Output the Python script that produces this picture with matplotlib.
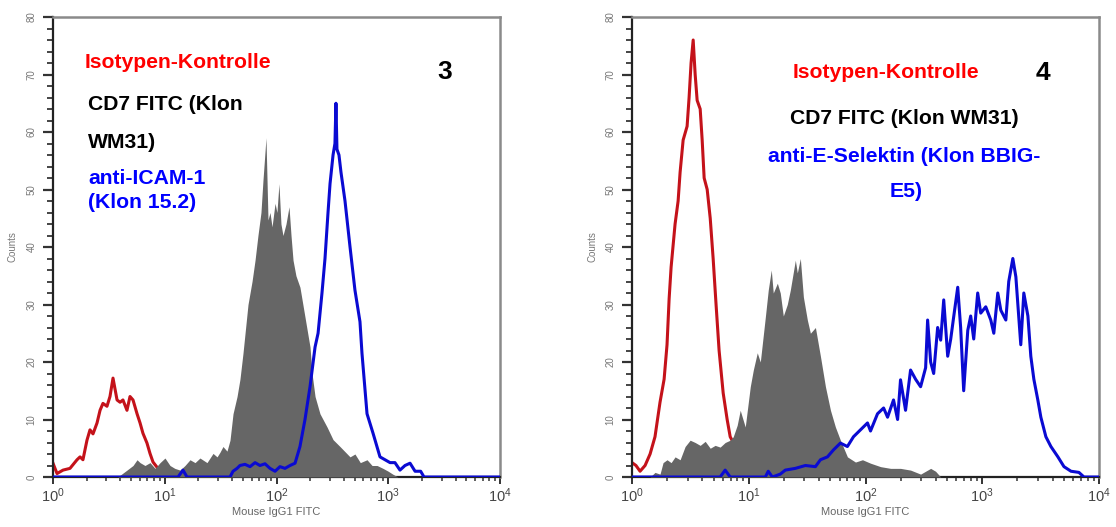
import numpy as np
import matplotlib
matplotlib.use("Agg")
import matplotlib.pyplot as plt
from matplotlib.ticker import FixedLocator, NullFormatter

plt.rcParams['font.family'] = ['Liberation Sans', 'DejaVu Sans']
plt.rcParams['mathtext.fontset'] = 'custom'
plt.rcParams['mathtext.rm'] = 'Liberation Sans'
plt.rcParams['mathtext.it'] = 'Liberation Sans'

# ---------------- Panel 3 data (log10 fluorescence, counts) ----------------
p3_red_logx = [0.00, 0.036, 0.09, 0.152, 0.215, 0.242, 0.268, 0.304, 0.331, 0.358,
               0.394, 0.421, 0.447, 0.483, 0.51, 0.537, 0.573, 0.60, 0.626, 0.662,
               0.689, 0.716, 0.752, 0.779, 0.805, 0.841, 0.868, 0.895, 0.931, 0.958,
               1.0, 1.05]
p3_red_counts = [2.4, 0.6, 1.2, 1.5, 3.0, 3.5, 3.0, 6.4, 8.2, 7.5,
                 9.4, 11.6, 12.8, 12.3, 14.0, 17.2, 13.4, 13.0, 13.4, 11.6,
                 14.0, 13.4, 11.0, 9.4, 7.6, 5.9, 4.1, 2.6, 1.7, 0.5,
                 0.2, 0.0]

p3_gray_logx = [0.0, 0.58, 0.60, 0.662, 0.716, 0.752, 0.779, 0.823, 0.868, 0.913,
                0.958, 1.002, 1.047, 1.09, 1.137, 1.181, 1.226, 1.271, 1.315, 1.378,
                1.432, 1.468, 1.494, 1.521, 1.557, 1.584, 1.611, 1.647, 1.673, 1.70,
                1.745, 1.781, 1.808, 1.834, 1.861, 1.879, 1.906, 1.924, 1.942, 1.96,
                1.987, 2.004, 2.022, 2.04, 2.058, 2.085, 2.112, 2.13, 2.148, 2.174,
                2.21, 2.255, 2.30, 2.318, 2.345, 2.389, 2.452, 2.506, 2.568, 2.658,
                2.702, 2.75, 2.81, 2.855, 2.90, 2.953, 3.0, 3.04, 3.087, 4.0]
p3_gray_counts = [0.0, 0.0, 0.3, 1.2, 2.0, 3.0, 2.5, 2.0, 2.5, 1.5,
                  2.5, 3.3, 2.0, 1.5, 1.2, 2.0, 3.0, 2.5, 3.3, 2.5,
                  4.1, 3.5, 4.3, 5.3, 4.5, 6.4, 11.0, 14.0, 17.0, 21.5,
                  30.0, 34.0, 37.7, 42.0, 46.0, 51.6, 59.0, 44.7, 46.0, 43.5,
                  47.6, 46.0, 51.0, 44.0, 42.0, 44.0, 47.0, 42.0, 37.7, 35.0,
                  33.0, 27.8, 22.6, 18.0, 14.0, 11.0, 8.7, 6.5, 5.3, 3.5,
                  4.0, 2.5, 3.0, 2.0, 2.0, 1.5, 1.0, 0.5, 0.0, 0.0]

p3_blue_logx = [0.0, 1.119, 1.163, 1.199, 1.584, 1.611, 1.647, 1.673, 1.718, 1.763,
                1.808, 1.852, 1.897, 1.942, 1.987, 2.031, 2.076, 2.121, 2.166, 2.21,
                2.255, 2.30, 2.345, 2.372, 2.407, 2.434, 2.461, 2.479, 2.506, 2.523,
                2.532, 2.541, 2.559, 2.577, 2.613, 2.658, 2.702, 2.747, 2.765, 2.81,
                2.864, 2.926, 2.971, 3.016, 3.06, 3.105, 3.15, 3.195, 3.24, 3.29,
                3.32, 4.0]
p3_blue_counts = [0.0, 0.0, 1.2, 0.0, 0.0, 1.0, 1.5, 2.0, 2.2, 1.8,
                  2.5, 2.0, 2.3, 1.5, 1.0, 1.8, 1.5, 2.0, 2.4, 5.3,
                  10.0, 15.7, 22.6, 25.0, 32.0, 38.0, 46.0, 51.0, 56.0, 58.0,
                  65.0, 57.0, 56.0, 53.0, 48.0, 40.0, 32.5, 27.0, 21.5, 11.0,
                  7.6, 3.5, 3.0, 2.5, 2.5, 1.2, 2.0, 2.4, 1.0, 1.0,
                  0.0, 0.0]

# ---------------- Panel 4 data ----------------
p4_red_logx = [0.0, 0.034, 0.069, 0.112, 0.155, 0.197, 0.24, 0.275, 0.30, 0.318,
               0.335, 0.369, 0.395, 0.412, 0.438, 0.472, 0.489, 0.506, 0.524, 0.541,
               0.558, 0.584, 0.601, 0.618, 0.644, 0.67, 0.695, 0.72, 0.746, 0.781,
               0.815, 0.841, 0.867, 0.893, 0.927, 0.97]
p4_red_counts = [2.5, 2.0, 1.0, 2.0, 4.0, 7.0, 13.0, 17.0, 23.0, 31.0,
                 36.5, 44.0, 48.0, 53.0, 58.6, 61.0, 66.0, 72.0, 76.0, 70.0,
                 65.5, 64.0, 58.6, 52.0, 50.0, 45.0, 38.0, 30.0, 22.0, 14.6,
                 10.0, 7.0, 6.0, 3.0, 1.0, 0.0]

p4_gray_logx = [0.0, 0.155, 0.197, 0.24, 0.266, 0.30, 0.335, 0.369, 0.412, 0.455,
                0.498, 0.541, 0.584, 0.627, 0.67, 0.712, 0.755, 0.798, 0.841, 0.867,
                0.901, 0.927, 0.97, 1.013, 1.039, 1.073, 1.099, 1.142, 1.167, 1.193,
                1.21, 1.245, 1.27, 1.296, 1.33, 1.356, 1.399, 1.416, 1.442, 1.468,
                1.502, 1.528, 1.571, 1.614, 1.657, 1.70, 1.742, 1.785, 1.845, 1.914,
                1.974, 2.043, 2.129, 2.215, 2.30, 2.386, 2.472, 2.558, 2.60, 2.644,
                4.0]
p4_gray_counts = [0.0, 0.0, 0.8, 0.5, 2.5, 3.0, 2.5, 3.5, 3.0, 5.3,
                  6.4, 6.0, 5.5, 6.2, 5.0, 5.5, 5.2, 6.0, 6.4, 7.0,
                  9.0, 11.6, 8.7, 15.7, 18.6, 21.6, 20.0, 27.8, 32.5, 36.0,
                  32.0, 33.7, 32.0, 28.0, 30.0, 32.5, 37.7, 35.5, 38.0, 31.3,
                  27.3, 25.0, 26.0, 21.0, 15.7, 11.6, 8.7, 6.4, 3.5, 2.6,
                  3.0, 2.4, 1.8, 1.5, 1.5, 1.2, 0.5, 1.5, 1.0, 0.0,
                  0.0]

p4_blue_logx = [0.0, 0.755, 0.798, 0.841, 1.142, 1.167, 1.202, 1.27, 1.313, 1.399,
                1.485, 1.571, 1.614, 1.674, 1.725, 1.785, 1.845, 1.897, 1.957, 2.017,
                2.043, 2.103, 2.155, 2.189, 2.24, 2.275, 2.30, 2.343, 2.386, 2.429,
                2.472, 2.515, 2.532, 2.558, 2.584, 2.618, 2.644, 2.67, 2.704, 2.73,
                2.755, 2.79, 2.815, 2.841, 2.876, 2.901, 2.927, 2.961, 2.987, 3.03,
                3.073, 3.099, 3.133, 3.159, 3.202, 3.227, 3.262, 3.288, 3.305, 3.33,
                3.356, 3.391, 3.416, 3.442, 3.476, 3.502, 3.545, 3.588, 3.648, 3.70,
                3.76, 3.828, 3.871, 4.0]
p4_blue_counts = [0.0, 0.0, 1.2, 0.0, 0.0, 1.0, 0.0, 0.5, 1.2, 1.5,
                  2.0, 1.8, 3.0, 3.5, 4.7, 5.9, 5.3, 7.0, 8.2, 9.4,
                  8.0, 11.0, 12.0, 10.4, 13.4, 10.0, 16.9, 11.6, 18.6, 17.0,
                  15.7, 19.0, 27.3, 20.0, 18.0, 26.0, 23.8, 30.8, 21.0, 24.0,
                  27.8, 33.0, 26.0, 15.0, 25.5, 28.0, 24.0, 32.0, 28.5, 29.6,
                  27.3, 25.0, 32.0, 29.0, 27.3, 34.0, 38.0, 34.8, 30.0, 23.0,
                  32.0, 28.0, 21.0, 17.0, 13.4, 10.4, 7.0, 5.3, 3.5, 1.8,
                  1.0, 0.8, 0.0, 0.0]

xtick_labels = [r'$10^0$', r'$10^1$', r'$10^2$', r'$10^3$', r'$10^4$']
y_label = 'Counts'
x_label = 'Mouse IgG1 FITC'

RED = '#c4121a'
BLUE = '#0a0ad2'
GRAY = '#666666'

fig = plt.figure(figsize=(11.16, 5.27), dpi=100)
ax3 = fig.add_axes([53 / 1116, 1 - 477 / 527, 447 / 1116, 460 / 527])
ax4 = fig.add_axes([632 / 1116, 1 - 477 / 527, 467 / 1116, 460 / 527])


def style(ax):
    ax.set_xscale('log')
    ax.set_xlim(1, 1e4)
    ax.set_ylim(0, 80)
    ax.xaxis.set_major_locator(FixedLocator([1, 10, 100, 1000, 10000]))
    ax.set_xticklabels(xtick_labels, fontsize=10.5, color='#444444')
    minors = [m * 10 ** d for d in range(4) for m in range(2, 10)]
    ax.xaxis.set_minor_locator(FixedLocator(minors))
    ax.xaxis.set_minor_formatter(NullFormatter())
    ax.yaxis.set_major_locator(FixedLocator(range(0, 81, 10)))
    ax.yaxis.set_minor_locator(FixedLocator(range(0, 81, 2)))
    ax.tick_params(axis='y', which='major', direction='out', length=7, width=1.6,
                   color='#333333', labelsize=7, labelcolor='#777777', pad=5)
    ax.tick_params(axis='y', which='minor', direction='out', length=4, width=1.4,
                   color='#444444')
    ax.tick_params(axis='x', which='major', direction='out', length=5, width=1.4,
                   color='#333333', pad=2)
    ax.tick_params(axis='x', which='minor', direction='out', length=3, width=1.2,
                   color='#444444')
    for lab in ax.get_yticklabels():
        lab.set_rotation(90)
        lab.set_va('center')
    ax.set_ylabel(y_label, fontsize=7, color='#777777', labelpad=6)
    ax.set_xlabel(x_label, fontsize=8, color='#666666', labelpad=1)
    for s in ['top', 'right']:
        ax.spines[s].set_color('#8a8a8a')
        ax.spines[s].set_linewidth(1.8)
    for s in ['left', 'bottom']:
        ax.spines[s].set_color('#222222')
        ax.spines[s].set_linewidth(1.6)


def draw(ax, rx, ry, gx, gy, bx, by):
    ax.plot(10 ** np.array(rx), ry, color=RED, lw=2.2, zorder=2)
    ax.fill_between(10 ** np.array(gx), gy, color=GRAY, lw=0, zorder=3)
    ax.plot(10 ** np.array(bx), by, color=BLUE, lw=2.2, zorder=4)


style(ax3)
style(ax4)
draw(ax3, p3_red_logx, p3_red_counts, p3_gray_logx, p3_gray_counts,
     p3_blue_logx, p3_blue_counts)
draw(ax4, p4_red_logx, p4_red_counts, p4_gray_logx, p4_gray_counts,
     p4_blue_logx, p4_blue_counts)


def fig_text(x, y, s, color, size=15.2, ha='left'):
    fig.text(x / 1116, 1 - y / 527, s, color=color, fontsize=size,
             fontweight='bold', ha=ha, va='center')


fig_text(85, 62, 'Isotypen-Kontrolle', '#ff0000')
fig_text(88, 105, 'CD7 FITC (Klon', '#000000')
fig_text(88, 142, 'WM31)', '#000000')
fig_text(88, 178, 'anti-ICAM-1', '#0000ff')
fig_text(88, 202, '(Klon 15.2)', '#0000ff')
fig_text(445, 72, '3', '#000000', size=19, ha='center')

fig_text(793, 73, 'Isotypen-Kontrolle', '#ff0000')
fig_text(1043, 73, '4', '#000000', size=19, ha='center')
fig_text(790, 118, 'CD7 FITC (Klon WM31)', '#000000')
fig_text(768, 156, 'anti-E-Selektin (Klon BBIG-', '#0000ff')
fig_text(906, 192, 'E5)', '#0000ff', ha='center')

fig.savefig('out.png', dpi=100)
